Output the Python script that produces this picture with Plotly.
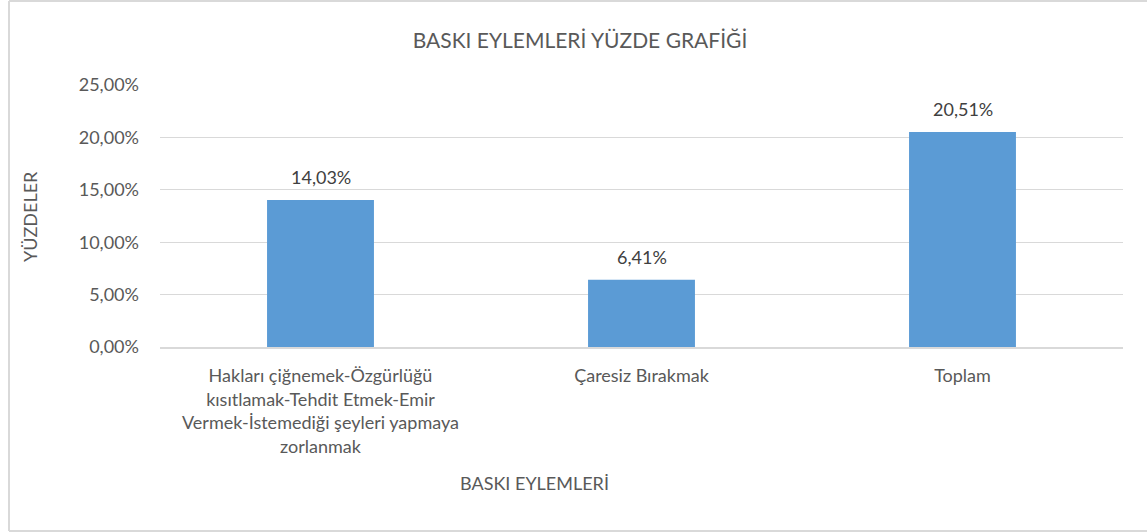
import plotly.graph_objects as go

categories = [
    "Hakları çiğnemek-Özgürlüğü<br>kısıtlamak-Tehdit Etmek-Emir<br>Vermek-İstemediği şeyleri yapmaya<br>zorlanmak",
    "Çaresiz Bırakmak",
    "Toplam",
]
values = [0.1403, 0.0641, 0.2051]
labels = ["14,03%", "6,41%", "20,51%"]
tick_vals = [0, 0.05, 0.10, 0.15, 0.20, 0.25]

FONT = "Lato, 'Open Sans', sans-serif"
GRAY = "#595959"

fig = go.Figure()
fig.add_trace(go.Bar(
    x=categories, y=values,
    marker=dict(color="#5B9BD5", line=dict(width=0)),
    width=0.333, hoverinfo="skip",
))

W, H = 1147, 532
L, R, T, B = 160, 24, 85, 185
pw = W - L - R
ph = H - T - B

def px(x):
    return (x - L) / pw

def py(y):
    return (H - B - y) / ph

annotations = [
    dict(text=t, x=c, y=v, xref="x", yref="y", showarrow=False,
         yanchor="middle", yshift=23,
         font=dict(size=18, color="#404040", family=FONT))
    for c, v, t in zip(categories, values, labels)
]
annotations += [
    dict(text="BASKI EYLEMLERİ", xref="paper", yref="paper",
         x=px(534), y=py(483), showarrow=False, yanchor="middle",
         font=dict(size=18, color=GRAY, family=FONT)),
    dict(text="YÜZDELER", xref="paper", yref="paper", textangle=-90,
         x=px(30), y=py(217), showarrow=False, xanchor="center", yanchor="middle",
         font=dict(size=18, color=GRAY, family=FONT)),
]

fig.update_layout(
    width=W, height=H,
    margin=dict(l=L, r=R, t=T, b=B, autoexpand=False),
    paper_bgcolor="white", plot_bgcolor="white",
    separators=",.",
    showlegend=False,
    font=dict(family=FONT, color=GRAY, size=18),
    title=dict(text="BASKI EYLEMLERİ YÜZDE GRAFİĞİ", x=px(580),
               xref="paper", xanchor="center", y=1 - 41 / H, yanchor="middle",
               font=dict(size=21, color=GRAY, family=FONT)),
    xaxis=dict(showgrid=False, showline=True, linecolor="#D9D9D9", linewidth=1.5,
               ticks="", tickfont=dict(size=18, color=GRAY), automargin=False,
               ticklabelstandoff=12),
    yaxis=dict(range=[0, 0.25], tickvals=tick_vals, tickformat=".2%",
               showgrid=True, gridcolor="#D9D9D9", gridwidth=1.3,
               zeroline=False, showline=False, ticks="", ticklen=0,
               tickfont=dict(size=18, color=GRAY), automargin=False,
               ticklabelstandoff=20),
    annotations=annotations,
    shapes=[
        dict(type="line", xref="paper", yref="paper", x0=px(9), x1=px(9),
             y0=py(1), y1=py(531), line=dict(color="#D9D9D9", width=2)),
        dict(type="line", xref="paper", yref="paper", x0=px(9), x1=px(1147),
             y0=py(1), y1=py(1), line=dict(color="#D9D9D9", width=2)),
        dict(type="line", xref="paper", yref="paper", x0=px(9), x1=px(1147),
             y0=py(531), y1=py(531), line=dict(color="#D9D9D9", width=2)),
    ],
)

fig.write_html(
    "out.html", config={"displayModeBar": False},
    post_script="document.documentElement.style.overflow='hidden';"
                "document.body.style.margin='0';"
                "document.body.style.overflow='hidden';",
)
